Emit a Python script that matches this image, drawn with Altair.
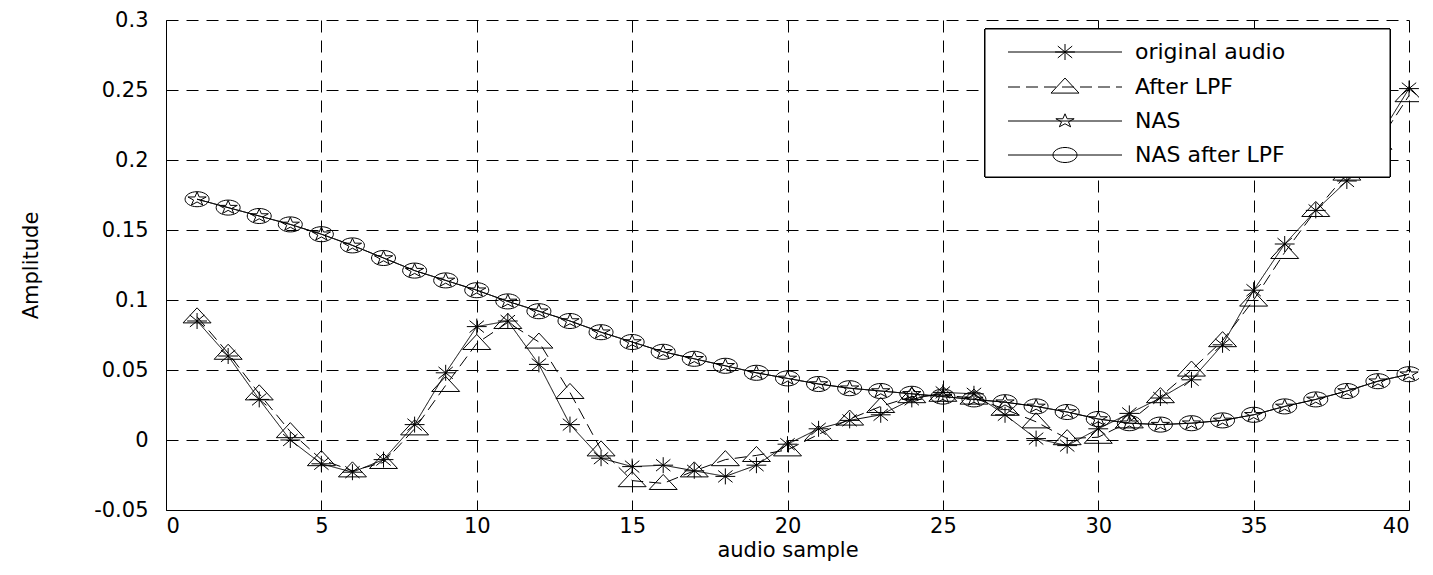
import math
import altair as alt
import pandas as pd

# ---------------- data ----------------
samples = list(range(1, 41))

original_audio = [0.085, 0.060, 0.029, 0.000, -0.017, -0.023, -0.014, 0.011, 0.048, 0.081,
                  0.085, 0.054, 0.011, -0.013, -0.019, -0.018, -0.022, -0.026, -0.018, -0.003,
                  0.008, 0.014, 0.018, 0.029, 0.034, 0.033, 0.018, 0.001, -0.004, 0.008,
                  0.019, 0.030, 0.043, 0.068, 0.107, 0.140, 0.164, 0.185, 0.215, 0.251]

after_lpf = [0.088, 0.062, 0.033, 0.006, -0.014, -0.022, -0.016, 0.008, 0.039, 0.069,
             0.084, 0.070, 0.034, -0.007, -0.029, -0.031, -0.022, -0.014, -0.011, -0.007,
             0.004, 0.015, 0.024, 0.031, 0.032, 0.030, 0.022, 0.013, 0.001, 0.002,
             0.013, 0.031, 0.050, 0.071, 0.100, 0.134, 0.164, 0.190, 0.212, 0.246]

nas = [0.172, 0.166, 0.160, 0.154, 0.147, 0.139, 0.130, 0.121, 0.114, 0.107,
       0.099, 0.092, 0.085, 0.077, 0.070, 0.063, 0.058, 0.053, 0.048, 0.044,
       0.040, 0.037, 0.035, 0.033, 0.031, 0.029, 0.027, 0.024, 0.020, 0.015,
       0.012, 0.011, 0.012, 0.014, 0.018, 0.024, 0.029, 0.035, 0.042, 0.047]

nas_after_lpf = [0.172, 0.166, 0.160, 0.154, 0.147, 0.139, 0.130, 0.121, 0.114, 0.107,
                 0.099, 0.092, 0.085, 0.077, 0.070, 0.063, 0.058, 0.053, 0.048, 0.044,
                 0.040, 0.037, 0.035, 0.033, 0.031, 0.029, 0.027, 0.024, 0.020, 0.015,
                 0.012, 0.011, 0.012, 0.014, 0.018, 0.024, 0.029, 0.035, 0.042, 0.047]

series_names = ["original audio", "After LPF", "NAS", "NAS after LPF"]
x_ticks = [0, 5, 10, 15, 20, 25, 30, 35, 40]
y_ticks = [-0.05, 0, 0.05, 0.1, 0.15, 0.2, 0.25, 0.3]

# ---------------- marker shapes (flattened, like the stretched original) ----------------
def fmt(v):
    return f"{v:.3f}"

def star_path(rx, ry):
    pts = []
    for k in range(10):
        ang = math.radians(-90 + 36 * k)
        r = 1.0 if k % 2 == 0 else 0.382
        pts.append((rx * r * math.cos(ang), ry * r * math.sin(ang)))
    return "M" + "L".join(f"{fmt(a)},{fmt(b)}" for a, b in pts) + "Z"

ASTERISK = "M0,-0.5L0,0.5M-0.62,0L0.62,0M-0.45,-0.37L0.45,0.37M-0.45,0.37L0.45,-0.37"
TRIANGLE = "M0,-0.56L0.875,0.38L-0.875,0.38Z"
STAR = star_path(0.6, 0.45)
ELLIPSE = "M-0.75,0A0.75,0.47 0 1,0 0.75,0A0.75,0.47 0 1,0 -0.75,0Z"

shapes = {"original audio": ASTERISK, "After LPF": TRIANGLE, "NAS": STAR, "NAS after LPF": ELLIPSE}
dashes = {"original audio": [1, 0], "After LPF": [12, 6], "NAS": [1, 0], "NAS after LPF": [1, 0]}
values = {"original audio": original_audio, "After LPF": after_lpf, "NAS": nas, "NAS after LPF": nas_after_lpf}

rows = []
for name in series_names:
    for s, v in zip(samples, values[name]):
        rows.append({"sample": s, "amp": v, "series": name})
df = pd.DataFrame(rows)

W, H = 1243, 490
FONT = "DejaVu Sans"
SZ = 1024

xenc = alt.X("sample:Q", scale=alt.Scale(domain=[0, 40], nice=False),
             axis=alt.Axis(values=x_ticks, title="audio sample", grid=True))
yenc = alt.Y("amp:Q", scale=alt.Scale(domain=[-0.05, 0.3], nice=False, zero=False),
             axis=alt.Axis(values=y_ticks, title="Amplitude", grid=True,
                           labelExpr="'' + datum.value"))

base = alt.Chart(df)
layers = []
draw_order = ["NAS after LPF", "NAS", "After LPF", "original audio"]
for name in draw_order:
    sub = base.transform_filter(alt.datum.series == name)
    layers.append(sub.mark_line(color="black", strokeWidth=1, strokeDash=dashes[name]).encode(x=xenc, y=yenc))
    layers.append(sub.mark_point(shape=shapes[name], size=SZ, filled=False, color="black",
                                 strokeWidth=1, opacity=1).encode(x=xenc, y=yenc))

# ---------------- legend box (drawn in plot pixel space) ----------------
leg_left, leg_right, leg_top, leg_bottom = 819, 1224, 9, 157
row_y = [32, 67, 101, 135]
line_x1, line_x2, marker_x, text_x = 842, 956, 899, 969

legend_layers = [
    alt.Chart(df).mark_rect(fill="white", stroke="black", strokeWidth=1).encode(
        x=alt.value(leg_left), x2=alt.value(leg_right), y=alt.value(leg_top), y2=alt.value(leg_bottom))
]
for name, ry in zip(series_names, row_y):
    one = alt.Chart(pd.DataFrame({"label": [name]}))
    legend_layers.append(one.mark_rule(color="black", strokeWidth=1, strokeDash=dashes[name]).encode(
        x=alt.value(line_x1), x2=alt.value(line_x2), y=alt.value(ry)))
    legend_layers.append(one.mark_point(shape=shapes[name], size=SZ, filled=False, color="black",
                                        strokeWidth=1, opacity=1).encode(x=alt.value(marker_x), y=alt.value(ry)))
    legend_layers.append(one.mark_text(align="left", baseline="middle", font=FONT, fontSize=22,
                                       color="black").encode(x=alt.value(text_x), y=alt.value(ry),
                                                             text="label:N"))

chart = alt.layer(*layers, *legend_layers).properties(
    width=W, height=H,
    autosize=alt.AutoSizeParams(type="none"),
    padding={"left": 158, "top": 12, "right": 10, "bottom": 57},
    background="white",
).configure_view(strokeWidth=0).configure_axis(
    domainColor="black", domainWidth=1,
    gridColor="black", gridDash=[12, 8], gridOpacity=1, gridWidth=1,
    ticks=False, tickSize=0,
    labelFont=FONT, labelFontSize=21, labelColor="black",
    titleFont=FONT, titleFontSize=21, titleFontWeight="normal", titleColor="black",
).configure_axisX(labelPadding=5, titlePadding=3).configure_axisY(labelPadding=18, titlePadding=52)

chart.save("out.html", embed_options={"renderer": "svg", "actions": False})
